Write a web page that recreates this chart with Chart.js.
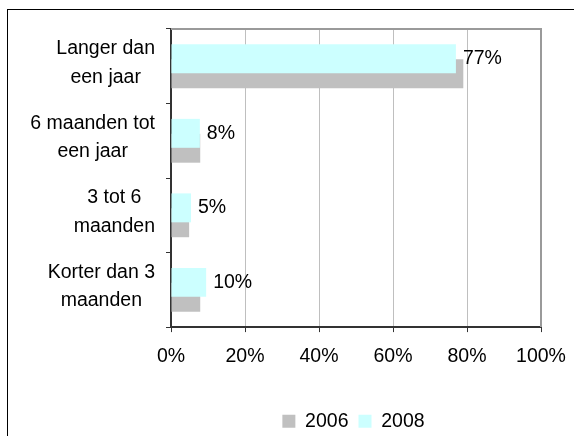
<!DOCTYPE html>
<html>
<head>
<meta charset="utf-8">
<script src="https://cdn.jsdelivr.net/npm/chart.js@4/dist/chart.umd.min.js"></script>
<style>
  body { margin: 0; background: #fff; overflow: hidden; }
  #wrap { position: relative; width: 574px; height: 436px; overflow: hidden; }
  #frame { position: absolute; left: 7px; top: 9px; width: 700px; height: 600px; border: 1px solid #000; }
  #grafico { position: absolute; left: 0; top: 0; }
</style>
</head>
<body>
<div id="wrap">
  <div id="frame"></div>
  <canvas id="grafico" width="620" height="441"></canvas>
</div>
<script>
// Data
const categorieen = [
  ['Langer dan', 'een jaar'],
  ['6 maanden tot', 'een jaar'],
  ['3 tot 6', 'maanden'],
  ['Korter dan 3', 'maanden']
];
const waarden2008 = [77, 7.8, 5.4, 9.5];
const waarden2006 = [79, 7.9, 4.9, 7.9];
const xTicks = [0, 20, 40, 60, 80, 100];

const fontFam = '"Liberation Sans", Arial, sans-serif';
const fontSize = 19.5;

// Labels next to the 2008 bars + category labels + plot frame
const extras = {
  id: 'extras',
  afterDatasetsDraw(chart) {
    const ctx = chart.ctx;
    const meta = chart.getDatasetMeta(0);
    ctx.save();
    ctx.font = fontSize + 'px ' + fontFam;
    ctx.fillStyle = '#000';
    ctx.textAlign = 'left';
    ctx.textBaseline = 'middle';
    meta.data.forEach((bar, i) => {
      ctx.fillText(Math.round(waarden2008[i]) + '%', bar.x + 7, bar.y);
    });
    ctx.restore();
  },
  afterDraw(chart) {
    const ctx = chart.ctx;
    const area = chart.chartArea;
    const yScale = chart.scales.y;

    // grey frame top + right
    ctx.save();
    ctx.strokeStyle = '#9a9a9a';
    ctx.lineWidth = 2;
    ctx.beginPath();
    ctx.moveTo(area.left, area.top);
    ctx.lineTo(area.right, area.top);
    ctx.lineTo(area.right, area.bottom);
    ctx.stroke();
    ctx.restore();

    // category labels: block right aligned, lines centred
    ctx.save();
    ctx.font = fontSize + 'px ' + fontFam;
    ctx.fillStyle = '#000';
    ctx.textAlign = 'center';
    ctx.textBaseline = 'middle';
    const rechts = area.left - 16;
    const regel = 28.5;
    categorieen.forEach((lines, i) => {
      const w = Math.max(...lines.map(l => ctx.measureText(l).width));
      const cx = rechts - w / 2;
      const cy = yScale.getPixelForValue(i) - 3;
      lines.forEach((l, j) => {
        ctx.fillText(l, cx, cy + (j - (lines.length - 1) / 2) * regel);
      });
    });
    ctx.restore();
  }
};

const ctx = document.querySelector('#grafico').getContext('2d');
new Chart(ctx, {
  type: 'bar',
  data: {
    labels: categorieen.map(c => c.join(' ')),
    datasets: [
      {
        label: '2008',
        data: waarden2008,
        backgroundColor: '#CCFFFF',
        borderWidth: 0,
        categoryPercentage: 0.4,
        barPercentage: 1.94
      },
      {
        label: '2006',
        data: waarden2006,
        backgroundColor: '#C0C0C0',
        borderWidth: 0,
        categoryPercentage: 0.4,
        barPercentage: 1.94
      }
    ]
  },
  options: {
    indexAxis: 'y',
    responsive: false,
    animation: false,
    layout: { padding: { left: 166, right: 79, top: 29, bottom: 0 } },
    scales: {
      x: {
        min: 0,
        max: 100,
        afterBuildTicks: s => { s.ticks = xTicks.map(v => ({ value: v })); },
        afterFit: s => { s.height += 20; },
        grid: { color: '#BFBFBF', tickColor: '#333', tickLength: 5 },
        border: { color: '#333', width: 2 },
        ticks: {
          color: '#000',
          padding: 13,
          font: { family: fontFam, size: fontSize },
          callback: v => v + '%'
        }
      },
      y: {
        offset: true,
        grid: { offset: true, drawOnChartArea: false, tickColor: '#333', tickLength: 5 },
        border: { color: '#333', width: 2 },
        ticks: { display: false }
      }
    },
    plugins: {
      legend: {
        position: 'bottom',
        reverse: true,
        labels: {
          boxWidth: 13,
          boxHeight: 13,
          padding: 10,
          color: '#000',
          font: { family: fontFam, size: fontSize }
        }
      },
      tooltip: { enabled: false }
    }
  },
  plugins: [extras]
});
</script>
</body>
</html>
